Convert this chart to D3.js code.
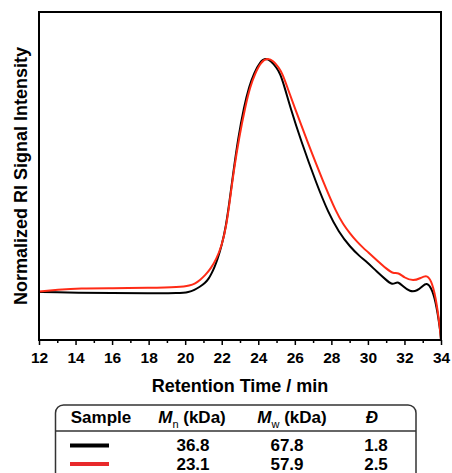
<!DOCTYPE html>
<html>
<head>
<meta charset="utf-8">
<script src="https://cdn.jsdelivr.net/npm/d3@7"></script>
<style>
  body { margin: 0; background: #fff; }
  svg { display: block; font-family: "Liberation Sans", Arial, Helvetica, sans-serif; }
</style>
</head>
<body>
<div class="chart"></div>
<script>
// GPC traces (retention time in min, normalized RI signal)
var blackTime = [12, 13, 14, 16, 18, 19.7, 20.2, 20.5, 20.8, 21.08, 21.3, 21.45, 21.6, 21.76, 22.0, 22.23, 22.43, 22.63, 22.9, 23.22, 23.5, 23.77, 24.1, 24.37, 24.7, 25.0, 25.19, 25.45, 25.74, 26.32, 27.2, 27.83, 28.4, 29.02, 29.57, 29.93, 30.5, 31.0, 31.3, 31.5, 31.66, 31.9, 32.3, 32.7, 33.0, 33.22, 33.45, 33.7, 33.96, 34.0];
var blackSignal = [0.000, -0.002, -0.003, -0.005, -0.006, -0.006, -0.001, 0.008, 0.022, 0.037, 0.058, 0.08, 0.105, 0.137, 0.198, 0.28, 0.39, 0.51, 0.66, 0.794, 0.88, 0.938, 0.985, 1.002, 0.99, 0.96, 0.937, 0.875, 0.794, 0.651, 0.46, 0.34, 0.257, 0.193, 0.151, 0.129, 0.086, 0.051, 0.032, 0.038, 0.043, 0.026, 0.0, 0.004, 0.026, 0.039, 0.021, -0.034, -0.163, -0.206];

var redTime = [12, 13, 14.24, 16, 18, 19.7, 20.26, 20.55, 20.8, 21.1, 21.4, 21.7, 22.0, 22.26, 22.46, 22.66, 22.96, 23.29, 23.56, 23.84, 24.15, 24.5, 24.83, 25.13, 25.32, 25.62, 25.97, 26.65, 27.56, 28.29, 28.65, 29.02, 29.4, 29.75, 30.0, 30.5, 31.03, 31.39, 31.66, 32.0, 32.48, 32.9, 33.22, 33.45, 33.7, 33.96, 34.0];
var redSignal = [0.002, 0.009, 0.016, 0.016, 0.017, 0.02, 0.027, 0.036, 0.05, 0.072, 0.1, 0.14, 0.197, 0.285, 0.4, 0.52, 0.665, 0.794, 0.88, 0.938, 0.985, 1.002, 0.99, 0.96, 0.935, 0.87, 0.794, 0.651, 0.47, 0.337, 0.29, 0.25, 0.215, 0.188, 0.171, 0.135, 0.098, 0.078, 0.084, 0.06, 0.046, 0.06, 0.072, 0.051, -0.013, -0.163, -0.206];

var majorTicks = [12, 14, 16, 18, 20, 22, 24, 26, 28, 30, 32, 34];
var minorTicks = [13, 15, 17, 19, 21, 23, 25, 27, 29, 31, 33];

// table below the plot
var sampleColors = ["#000000", "#e8292b"];
var mnValues = ["36.8", "23.1"];
var mwValues = ["67.8", "57.9"];
var dispersity = ["1.8", "2.5"];

var width = 452, height = 473;
var margin = { top: 12, right: 11, bottom: 133, left: 39 };

var svg = d3.select(".chart")
  .append("svg")
  .attr("width", width)
  .attr("height", height);

var x = d3.scaleLinear().domain([12, 34]).range([margin.left, width - margin.right]);
var y = d3.scaleLinear().domain([-0.206, 1.199]).range([height - margin.bottom, margin.top]);
var plotBottom = height - margin.bottom;

svg.append("clipPath").attr("id", "plot-clip")
  .append("rect")
  .attr("x", margin.left).attr("y", margin.top)
  .attr("width", x(34) - x(12)).attr("height", plotBottom - margin.top);

var line = d3.line()
  .x(function (d) { return x(d[0]); })
  .y(function (d) { return y(d[1]); })
  .curve(d3.curveBasis);

var series = [
  { color: "#000000", data: d3.zip(blackTime, blackSignal) },
  { color: "#ff2b16", data: d3.zip(redTime, redSignal) }
];

svg.append("g")
  .attr("clip-path", "url(#plot-clip)")
  .selectAll("path")
  .data(series)
  .enter()
  .append("path")
  .attr("d", function (d) { return line(d.data); })
  .style("fill", "none")
  .style("stroke", function (d) { return d.color; })
  .style("stroke-width", "2px")
  .style("stroke-linejoin", "round");

// minor ticks
svg.append("g")
  .attr("transform", "translate(0," + plotBottom + ")")
  .call(d3.axisBottom(x).tickValues(minorTicks).tickSize(3).tickFormat(""))
  .call(function (g) { g.select(".domain").remove(); })
  .selectAll("line").style("stroke", "#000").style("stroke-width", "1.5px");

// major ticks + labels
var xAxis = svg.append("g")
  .attr("transform", "translate(0," + plotBottom + ")")
  .call(d3.axisBottom(x).tickValues(majorTicks).tickSize(5).tickPadding(7));
xAxis.select(".domain").remove();
xAxis.selectAll("line").style("stroke", "#000").style("stroke-width", "1.5px");
xAxis.selectAll("text")
  .style("font-size", "15.5px")
  .style("font-weight", "bold")
  .style("fill", "#000")
  .style("font-family", "'Liberation Sans', Arial, sans-serif");

// frame
svg.append("rect")
  .attr("x", margin.left).attr("y", margin.top)
  .attr("width", x(34) - x(12)).attr("height", plotBottom - margin.top)
  .style("fill", "none")
  .style("stroke", "#000")
  .style("stroke-width", "2px");

svg.append("text")
  .attr("x", (x(12) + x(34)) / 2)
  .attr("y", 391.5)
  .attr("text-anchor", "middle")
  .style("font-size", "18px")
  .style("font-weight", "bold")
  .text("Retention Time / min");

svg.append("text")
  .attr("transform", "translate(27," + (margin.top + plotBottom) / 2 + ") rotate(-90)")
  .attr("text-anchor", "middle")
  .style("font-size", "18px")
  .style("font-weight", "bold")
  .text("Normalized RI Signal Intensity");

// table
var table = svg.append("g");
table.append("rect")
  .attr("x", 55.5).attr("y", 405)
  .attr("width", 360.5).attr("height", 90)
  .attr("rx", 8).attr("ry", 8)
  .style("fill", "none")
  .style("stroke", "#333")
  .style("stroke-width", "1.5px");
table.append("line")
  .attr("x1", 55.5).attr("x2", 416)
  .attr("y1", 431).attr("y2", 431)
  .style("stroke", "#333")
  .style("stroke-width", "1.5px");

var headerY = 423;
var head = table.append("g")
  .style("font-size", "17px")
  .style("font-weight", "bold")
  .attr("text-anchor", "middle");

head.append("text").attr("x", 101).attr("y", headerY).text("Sample");

function molarHeader(cx, sub) {
  var t = head.append("text").attr("x", cx).attr("y", headerY);
  t.append("tspan").style("font-style", "italic").text("M");
  t.append("tspan").attr("dy", 5).style("font-size", "11px").style("font-weight", "normal").text(sub);
  t.append("tspan").attr("dy", -5).text(" (kDa)");
}
molarHeader(192, "n");
molarHeader(292, "w");
head.append("text").attr("x", 372).attr("y", headerY).style("font-style", "italic").text("\u0110");

var rowY = [451, 469.5];
var rows = table.selectAll("g.row")
  .data(sampleColors)
  .enter()
  .append("g")
  .attr("class", "row")
  .style("font-size", "17px")
  .style("font-weight", "bold")
  .attr("text-anchor", "middle");

rows.append("line")
  .attr("x1", 70).attr("x2", 109)
  .attr("y1", function (d, i) { return rowY[i] - 5.5; })
  .attr("y2", function (d, i) { return rowY[i] - 5.5; })
  .style("stroke", function (d) { return d; })
  .style("stroke-width", "4px");
rows.append("text").attr("x", 193).attr("y", function (d, i) { return rowY[i]; })
  .text(function (d, i) { return mnValues[i]; });
rows.append("text").attr("x", 287).attr("y", function (d, i) { return rowY[i]; })
  .text(function (d, i) { return mwValues[i]; });
rows.append("text").attr("x", 376).attr("y", function (d, i) { return rowY[i]; })
  .text(function (d, i) { return dispersity[i]; });
</script>
</body>
</html>
